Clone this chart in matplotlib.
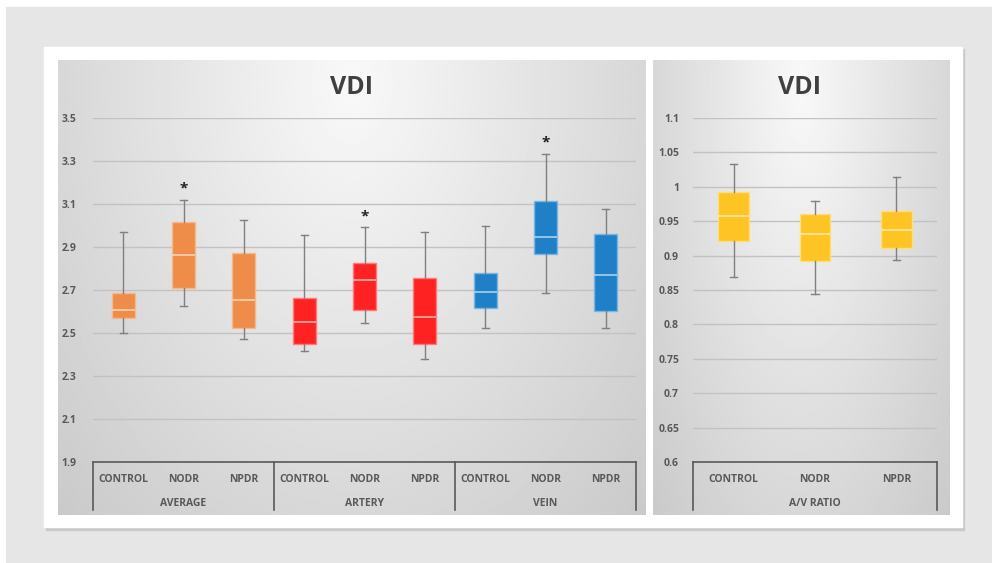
import numpy as np
import matplotlib
matplotlib.use("Agg")
import matplotlib.pyplot as plt
from matplotlib.patches import Rectangle

plt.rcParams['font.family'] = ['Open Sans', 'DejaVu Sans']

# data
groups = ['AVERAGE', 'ARTERY', 'VEIN']
cats = ['CONTROL', 'NODR', 'NPDR']

# left chart, 9 boxes (average / artery / vein x control / nodr / npdr)
vdi_lo = [2.500, 2.627, 2.472, 2.417, 2.546, 2.378, 2.525, 2.684, 2.525]
vdi_q1 = [2.570, 2.709, 2.525, 2.449, 2.607, 2.449, 2.616, 2.867, 2.601]
vdi_med = [2.605, 2.863, 2.655, 2.551, 2.745, 2.576, 2.691, 2.945, 2.769]
vdi_q3 = [2.688, 3.016, 2.872, 2.661, 2.827, 2.754, 2.779, 3.115, 2.959]
vdi_hi = [2.968, 3.119, 3.027, 2.954, 2.991, 2.970, 2.999, 3.333, 3.075]
vdi_star = [False, True, False, False, True, False, False, True, False]

# right chart, A/V ratio
av_lo = [0.869, 0.844, 0.893]
av_q1 = [0.921, 0.892, 0.911]
av_med = [0.958, 0.932, 0.937]
av_q3 = [0.993, 0.961, 0.965]
av_hi = [1.033, 0.980, 1.014]

left_ticks = [1.9, 2.1, 2.3, 2.5, 2.7, 2.9, 3.1, 3.3, 3.5]
right_ticks = [0.6, 0.65, 0.7, 0.75, 0.8, 0.85, 0.9, 0.95, 1, 1.05, 1.1]

group_colors = {
    'AVERAGE': ('#ee8c49', '#f7b98c', '#f9d3b4'),
    'ARTERY': ('#fe2222', '#ff7a7a', '#ffb0a8'),
    'VEIN': ('#2080c7', '#7ab6e3', '#a9d0ef'),
    'A/V RATIO': ('#fdc423', '#fede7a', '#fee9a6'),
}

W, H = 992, 563
fig = plt.figure(figsize=(W / 100, H / 100), dpi=100, facecolor='white')


def fr(x0, y0, x1, y1):
    # pixel box -> figure fraction rect
    return [x0 / W, 1 - y1 / H, (x1 - x0) / W, (y1 - y0) / H]


# outer gray, card shadow and white card
fig.patches.append(Rectangle((6 / W, 0), 1, 1 - 7 / H, transform=fig.transFigure,
                             color='#e6e6e6', zorder=-3))
fig.patches.append(Rectangle((46 / W, 1 - 530 / H), 918 / W, 481 / H,
                             transform=fig.transFigure, color='#c9c9c9', zorder=-2))
fig.patches.append(Rectangle((44 / W, 1 - 527 / H), 918 / W, 480 / H,
                             transform=fig.transFigure, color='white', zorder=-1))

# gradient panels
yy, xx = np.mgrid[0:1:200j, 0:1:300j]
d = np.sqrt(((xx - 0.5) / 0.5) ** 2 + ((yy - 0.05) / 0.95) ** 2)
grad = 0.975 - 0.13 * d
for rect in [fr(58, 60, 646, 515), fr(653, 60, 949, 515)]:
    bg = fig.add_axes(rect, zorder=0)
    bg.imshow(grad, cmap='gray', vmin=0, vmax=1, aspect='auto',
              extent=[0, 1, 0, 1], origin='upper')
    bg.axis('off')

txt = '#595959'


def draw(ax, lo, q1, med, q3, hi, names, ticks, capw):
    n = len(lo)
    stats = []
    for i in range(n):
        stats.append(dict(whislo=lo[i], q1=q1[i], med=med[i], q3=q3[i],
                          whishi=hi[i], fliers=[]))
    pos = np.arange(n)
    for i in range(n):
        face, edge, medc = group_colors[names[i]]
        ax.bxp([stats[i]], positions=[pos[i]], widths=0.38, patch_artist=True,
               showfliers=False, capwidths=[capw],
               boxprops=dict(facecolor=face, edgecolor=edge, linewidth=1),
               medianprops=dict(color=medc, linewidth=1.2),
               whiskerprops=dict(color='#808080', linewidth=1),
               capprops=dict(color='#808080', linewidth=1))
    ax.set_xlim(-0.5, n - 0.5)
    ax.set_ylim(ticks[0], ticks[-1])
    ax.set_yticks(ticks)
    ax.set_yticklabels([('%g' % t) for t in ticks])
    ax.set_xticks([])
    ax.tick_params(axis='y', length=0, labelsize=7.5, labelcolor=txt)
    for lab in ax.get_yticklabels():
        lab.set_fontweight('bold')
    ax.grid(axis='y', color='#c2c2c2', linewidth=1)
    ax.set_axisbelow(True)
    ax.patch.set_alpha(0)
    for s in ['left', 'right', 'top']:
        ax.spines[s].set_visible(False)
    ax.spines['bottom'].set_color('#595959')
    ax.spines['bottom'].set_linewidth(1.2)


# left chart
axL = fig.add_axes(fr(93, 118, 636, 462), zorder=2)
left_names = [g for g in groups for c in cats]
draw(axL, vdi_lo, vdi_q1, vdi_med, vdi_q3, vdi_hi, left_names, left_ticks, 0.12)
axL.tick_params(axis='y', pad=12)
for i, s in enumerate(vdi_star):
    if s:
        axL.annotate('*', (i, vdi_hi[i]), xytext=(0, 3), textcoords='offset points',
                     ha='center', va='bottom', fontsize=11, fontweight='bold',
                     color='#222222')
trL = axL.get_xaxis_transform()
for i in range(len(left_names)):
    axL.text(i, -0.05, cats[i % 3], transform=trL, ha='center', va='center',
             fontsize=7.5, fontweight='bold', color=txt)
for g in range(len(groups)):
    axL.text(g * 3 + 1, -0.12, groups[g], transform=trL, ha='center', va='center',
             fontsize=7.5, fontweight='bold', color=txt)
for b in range(len(groups) + 1):
    axL.plot([b * 3 - 0.5, b * 3 - 0.5], [0, -0.14], transform=trL, color='#595959',
             linewidth=1.2, clip_on=False)
fig.text(352 / W, 1 - 88 / H, 'VDI', ha='center', va='center', fontsize=18,
         fontweight='bold', color='#404040')

# right chart
axR = fig.add_axes(fr(693, 118, 937, 462), zorder=2)
draw(axR, av_lo, av_q1, av_med, av_q3, av_hi, ['A/V RATIO'] * 3, right_ticks, 0.09)
axR.tick_params(axis='y', pad=10)
trR = axR.get_xaxis_transform()
for i in range(len(cats)):
    axR.text(i, -0.05, cats[i], transform=trR, ha='center', va='center',
             fontsize=7.5, fontweight='bold', color=txt)
axR.text(1, -0.12, 'A/V RATIO', transform=trR, ha='center', va='center',
         fontsize=7.5, fontweight='bold', color=txt)
for b in [-0.5, 2.5]:
    axR.plot([b, b], [0, -0.14], transform=trR, color='#595959', linewidth=1.2,
             clip_on=False)
fig.text(800 / W, 1 - 88 / H, 'VDI', ha='center', va='center', fontsize=18,
         fontweight='bold', color='#404040')

fig.savefig('out.png', dpi=100, facecolor=fig.get_facecolor())
